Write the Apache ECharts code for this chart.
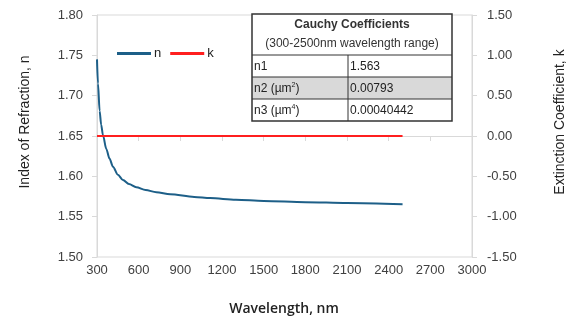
<!DOCTYPE html>
<html><head><meta charset="utf-8">
<script src="https://cdn.jsdelivr.net/npm/echarts@6/dist/echarts.min.js"></script>
<style>html,body{margin:0;padding:0;background:#fff}#c{width:574px;height:322px}</style>
</head><body><div id="c"></div>
<script>
// Data
const wavelengths = [300, 307, 319, 330, 343, 367, 390, 415, 450, 487, 530, 583, 650, 727, 827, 1000, 1115, 1300, 1500, 1800, 2100, 2500];
const nValues     = [1.745, 1.715, 1.681, 1.664, 1.651, 1.634, 1.622, 1.612, 1.602, 1.5955, 1.5905, 1.5865, 1.583, 1.5803, 1.5777, 1.5745, 1.573, 1.571, 1.5695, 1.568, 1.567, 1.5655];
const kWavelengths = [300, 2500];
const kValues      = [0, 0];
const xTicks = [300, 600, 900, 1200, 1500, 1800, 2100, 2400, 2700, 3000];
const leftTicks = [1.50, 1.55, 1.60, 1.65, 1.70, 1.75, 1.80];
const rightTicks = [-1.50, -1.00, -0.50, 0.00, 0.50, 1.00, 1.50];
const tableTitle = 'Cauchy Coefficients';
const tableSubtitle = '(300-2500nm wavelength range)';
const tableLabels = ['n1', 'n2 (µm{sup|2})', 'n3 (µm{sup|4})'];
const tableValues = ['1.563', '0.00793', '0.00040442'];

const chart = echarts.init(document.getElementById('c'));
const axisGray = '#d9d9d9';
const labelColor = '#404040';

// table graphic
const tx = 252, tw = 200, ty = 14, headH = 41, rowH = 22, colX = 348;
const g = [];
g.push({type:'rect', shape:{x:tx, y:ty+headH+rowH, width:tw, height:rowH}, style:{fill:'#d9d9d9'}, z:10});
g.push({type:'rect', shape:{x:tx, y:ty, width:tw, height:headH+rowH*3}, style:{fill:'none', stroke:'#333', lineWidth:1.5}, z:12});
for (let i = 0; i < 3; i++) {
  const yy = ty + headH + rowH*i;
  g.push({type:'line', shape:{x1:tx, y1:yy, x2:tx+tw, y2:yy}, style:{stroke:'#333', lineWidth:1}, z:12});
}
g.push({type:'line', shape:{x1:colX, y1:ty+headH, x2:colX, y2:ty+headH+rowH*3}, style:{stroke:'#333', lineWidth:1}, z:12});
g.push({type:'rect', shape:{x:tx, y:ty, width:tw, height:headH}, style:{fill:'#fff'}, z:9});
g.push({type:'rect', shape:{x:tx, y:ty+headH, width:tw, height:rowH}, style:{fill:'#fff'}, z:9});
g.push({type:'rect', shape:{x:tx, y:ty+headH+rowH*2, width:tw, height:rowH}, style:{fill:'#fff'}, z:9});
g.push({type:'text', x:tx+tw/2, y:ty+11, z:13, style:{text:tableTitle, font:'bold 12px "Liberation Sans", Arial, sans-serif', fill:'#333', align:'center', verticalAlign:'middle'}});
g.push({type:'text', x:tx+tw/2, y:ty+30, z:13, style:{text:tableSubtitle, font:'12px "Liberation Sans", Arial, sans-serif', fill:'#333', align:'center', verticalAlign:'middle'}});
tableLabels.forEach((lab, i) => {
  const yy = ty + headH + rowH*i + rowH/2 + 1;
  g.push({type:'text', x:tx+2, y:yy, z:13, style:{text:lab, font:'12px "Liberation Sans", Arial, sans-serif', fill:'#222', align:'left', verticalAlign:'middle', rich:{sup:{fontSize:7, verticalAlign:'top', padding:[0,0,7,0], fill:'#222'}}}});
  g.push({type:'text', x:colX+2, y:yy, z:13, style:{text:tableValues[i], font:'12px "Liberation Sans", Arial, sans-serif', fill:'#222', align:'left', verticalAlign:'middle'}});
});
// axis titles
g.push({type:'text', x:25, y:122, rotation:Math.PI/2, z:5, style:{text:'Index of Refraction, n', font:'14px "Liberation Sans", Arial, sans-serif', fill:'#222', align:'center', verticalAlign:'middle'}});
g.push({type:'text', x:560, y:122, rotation:Math.PI/2, z:5, style:{text:'Extinction Coefficient, k', font:'14px "Liberation Sans", Arial, sans-serif', fill:'#222', align:'center', verticalAlign:'middle'}});
g.push({type:'text', x:284, y:309, z:5, style:{text:'Wavelength, nm', font:'600 14px "Open Sans", "Liberation Sans", sans-serif', fill:'#222', align:'center', verticalAlign:'middle'}});

chart.setOption({
  animation: false,
  grid: {left:97, right:102, top:15, bottom:65, show:true, borderColor:axisGray, borderWidth:1, backgroundColor:'transparent'},
  legend: {
    data: ['n', 'k'], left: 112, top: 42, icon: 'rect', itemWidth: 34, itemHeight: 3, itemGap: 9,
    textStyle: {fontFamily:'"Liberation Sans", Arial, sans-serif', fontSize: 13, color: '#222', padding:[0,0,0,-2]}
  },
  xAxis: {
    type:'value', min:xTicks[0], max:xTicks[xTicks.length-1], interval:xTicks[1]-xTicks[0],
    axisLine:{show:true, lineStyle:{color:axisGray}}, axisTick:{show:true, length:5, lineStyle:{color:axisGray}},
    splitLine:{show:false},
    axisLabel:{margin:7, color:labelColor, fontSize:13, fontFamily:'"Liberation Sans", Arial, sans-serif', formatter:v=>String(v)}
  },
  yAxis: [{
    type:'value', min:leftTicks[0], max:leftTicks[leftTicks.length-1], interval:0.05, position:'left',
    axisLine:{show:true, lineStyle:{color:axisGray}}, axisTick:{show:true, length:5, lineStyle:{color:axisGray}},
    splitLine:{show:false},
    axisLabel:{margin:14, color:labelColor, fontSize:13, fontFamily:'"Liberation Sans", Arial, sans-serif', formatter:v=>v.toFixed(2)}
  }, {
    type:'value', min:rightTicks[0], max:rightTicks[rightTicks.length-1], interval:0.5, position:'right',
    axisLine:{show:true, lineStyle:{color:axisGray}}, axisTick:{show:true, length:5, lineStyle:{color:axisGray}},
    splitLine:{show:false},
    axisLabel:{margin:15, color:labelColor, fontSize:13, fontFamily:'"Liberation Sans", Arial, sans-serif', formatter:v=>v.toFixed(2)}
  }],
  series: [{
    name:'n', type:'line', yAxisIndex:0, symbol:'none', smooth:0.3, smoothMonotone:'x',
    data: wavelengths.map((w,i)=>[w, nValues[i]]),
    lineStyle:{color:'#1d5f88', width:2}, itemStyle:{color:'#1d5f88'}
  }, {
    name:'k', type:'line', yAxisIndex:1, symbol:'none',
    data: kWavelengths.map((w,i)=>[w, kValues[i]]),
    lineStyle:{color:'#ff1f1f', width:2}, itemStyle:{color:'#ff1f1f'}
  }],
  graphic: g
});
</script></body></html>
